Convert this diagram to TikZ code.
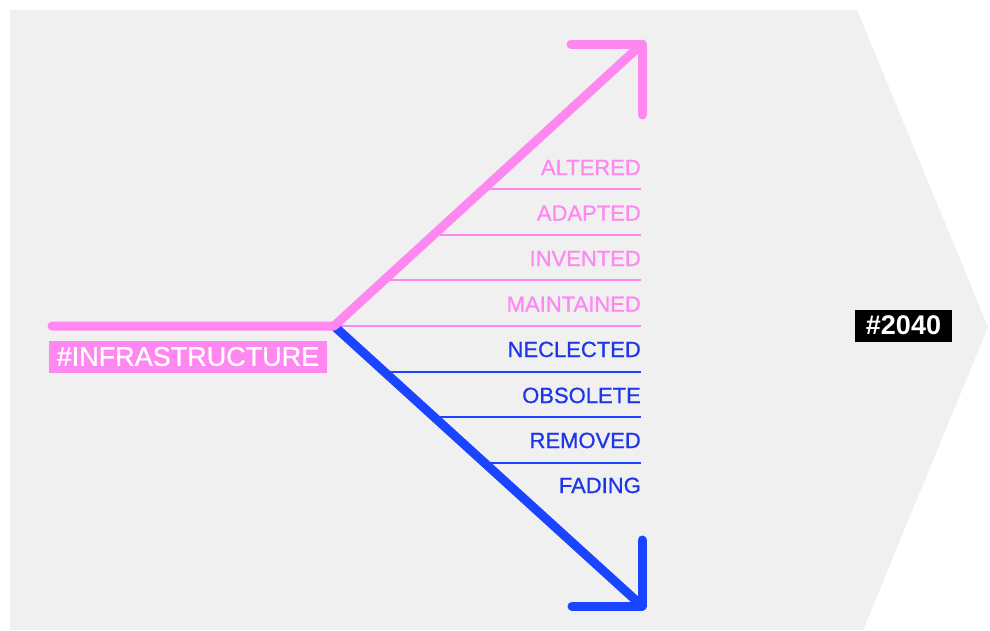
\documentclass[tikz,border=0pt]{standalone}
\usepackage{fontspec}
\setmainfont{Liberation Sans}
\newfontfamily\lblfont[FakeBold=0.8]{Liberation Sans}
\definecolor{bg}{HTML}{F0F0F0}
\definecolor{pinkc}{HTML}{FF88F0}
\definecolor{bluec}{HTML}{1A44FF}
\definecolor{bluetxt}{HTML}{1E36E8}
\begin{document}
\begin{tikzpicture}[x=1pt,y=-1pt,
  thick line/.style={line width=9pt,line cap=round,line join=round},
  thin line/.style={line width=2pt},
  plabel/.style={anchor=base east,inner sep=0pt,text=pinkc,font=\lblfont\fontsize{22}{22}\selectfont},
  blabel/.style={anchor=base east,inner sep=0pt,text=bluetxt,font=\lblfont\fontsize{22}{22}\selectfont}]
\useasboundingbox (0,0) rectangle (990,630);
\fill[white] (0,0) rectangle (990,630);
\fill[bg] (10,10) -- (857,10) -- (988,327) -- (863,630) -- (10,630) -- cycle;

% thin level lines
\coordinate (e0) at (641,326);
\foreach \y/\x in {189.3/490,234.7/440,280.3/390}{
  \draw[pinkc,thin line] (\x,\y) -- (641,\y);
}
\draw[pinkc,thin line] (333,326) -- (e0);
\foreach \y/\x in {371.7/390,417.3/440,463.3/490}{
  \draw[bluec,thin line] (\x,\y) -- (641,\y);
}

% main lines
\coordinate (start) at (52,326);
\coordinate (junc) at (334,326);
\coordinate (ptip) at (642,44);
\coordinate (ph) at (571,44);
\coordinate (pv) at (642,115);
\coordinate (btip) at (642,606);
\coordinate (bh) at (572,606);
\coordinate (bv) at (642,540);

\draw[bluec,thick line] (junc) -- (btip);
\draw[bluec,thick line] (bh) -- (btip) -- (bv);
\draw[pinkc,thick line] (start) -- (junc) -- (ptip);
\draw[pinkc,thick line] (ph) -- (ptip) -- (pv);

% labels
\node[plabel] (l1) at (641,175) {ALTERED};
\node[plabel] (l2) at (641,220.7) {ADAPTED};
\node[plabel] (l3) at (641,266) {INVENTED};
\node[plabel] (l4) at (641,311.7) {MAINTAINED};
\node[blabel] (l5) at (641,357) {NECLECTED};
\node[blabel] (l6) at (641,403) {OBSOLETE};
\node[blabel] (l7) at (641,448) {REMOVED};
\node[blabel] (l8) at (641,493) {FADING};

\node[fill=pinkc,text=white,inner sep=0pt,minimum width=278pt,minimum height=32pt,
  font=\lblfont\fontsize{27}{27}\selectfont] (infra) at (188,356.5) {\#INFRASTRUCTURE};
\node[fill=black,text=white,inner sep=0pt,minimum width=97pt,minimum height=32pt,
  font=\fontsize{27}{27}\selectfont\bfseries] (year) at (903.5,325.5) {\#2040};
\end{tikzpicture}
\end{document}
